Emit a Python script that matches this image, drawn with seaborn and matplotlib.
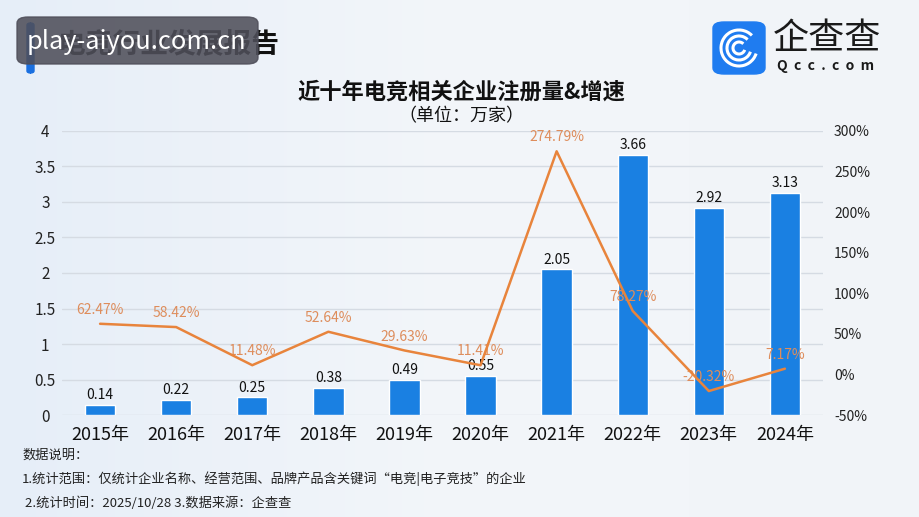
import numpy as np
import pandas as pd
import seaborn as sns
import matplotlib.pyplot as plt
from matplotlib.patches import FancyBboxPatch, Arc

years = ['2015年', '2016年', '2017年', '2018年', '2019年',
         '2020年', '2021年', '2022年', '2023年', '2024年']
counts = [0.14, 0.22, 0.25, 0.38, 0.49, 0.55, 2.05, 3.66, 2.92, 3.13]
growth = [62.47, 58.42, 11.48, 52.64, 29.63, 11.41, 274.79, 78.27, -20.32, 7.17]
growth_labels = ['62.47%', '58.42%', '11.48%', '52.64%', '29.63%',
                 '11.41%', '274.79%', '78.27%', '-20.32%', '7.17%']
left_ticks = [0, 0.5, 1, 1.5, 2, 2.5, 3, 3.5, 4]
left_labels = ['0', '0.5', '1', '1.5', '2', '2.5', '3', '3.5', '4']
right_ticks = [-50, 0, 50, 100, 150, 200, 250, 300]

sns.set_theme(style='white')
plt.rcParams['font.family'] = ['Noto Sans CJK SC', 'DejaVu Sans']

BLUE = '#1a80e2'
ORANGE = '#e8843c'
BG = '#eef3f9'

df = pd.DataFrame({'year': years, 'count': counts, 'growth': growth})
df['pos'] = np.arange(len(years))

fig = plt.figure(figsize=(9.19, 5.17), dpi=100)
fig.patch.set_facecolor(BG)

# soft background gradient
bg = fig.add_axes([0, 0, 1, 1], zorder=-10)
grad = np.linspace(0, 1, 256)[None, :] * np.ones((64, 1))
bg.imshow(grad, aspect='auto', cmap=sns.blend_palette(['#e6eef8', '#f3f6fa', '#f1f4f8'], as_cmap=True),
          extent=[0, 1, 0, 1])
bg.axis('off')

ax = fig.add_axes([0.0675, 0.197, 0.828, 0.55])
ax.set_facecolor('none')
sns.barplot(data=df, x='year', y='count', color=BLUE, width=0.4,
            saturation=1, ax=ax, zorder=3)
ax.set_ylim(0, 4)
ax.set_xlim(-0.5, 9.5)
ax.set_yticks(left_ticks)
ax.set_yticklabels(left_labels, ha='center')
ax.yaxis.grid(True, color='#d5dbe3', linewidth=1)
ax.set_axisbelow(True)
ax.set_xlabel('')
ax.set_ylabel('')
ax.tick_params(axis='y', labelsize=11, colors='#222222', length=0, pad=12)
ax.tick_params(axis='x', labelsize=13, colors='#111111', length=0, pad=8)
for s in ax.spines.values():
    s.set_visible(False)
for i, v in enumerate(counts):
    ax.text(i, v + 0.04, f'{v:.2f}', ha='center', va='bottom',
            fontsize=10, color='#111111', zorder=5)

ax2 = ax.twinx()
sns.lineplot(data=df, x='pos', y='growth', color=ORANGE, linewidth=1.8,
             ax=ax2, zorder=4)
ax2.set_ylim(-50, 300)
ax2.set_xlim(-0.5, 9.5)
ax2.set_yticks(right_ticks)
ax2.set_yticklabels([f'{t}%' for t in right_ticks])
ax2.tick_params(axis='y', labelsize=10, colors='#222222', length=0, pad=8)
ax2.set_xlabel('')
ax2.set_ylabel('')
for s in ax2.spines.values():
    s.set_visible(False)
for i, (v, lab) in enumerate(zip(growth, growth_labels)):
    ax2.annotate(lab, (i, v), xytext=(0, 5), textcoords='offset points',
                 ha='center', va='bottom', fontsize=10, color='#de8d5c')

# header
fig.text(0.502, 0.822, '近十年电竞相关企业注册量&增速', ha='center', va='center',
         fontsize=16, fontweight='bold', color='#111111')
fig.text(0.502, 0.775, '（单位：万家）', ha='center', va='center',
         fontsize=13, color='#111111')

fig.patches.append(FancyBboxPatch((27 / 919, 1 - 73 / 517), 7 / 919, 50 / 517,
                                  boxstyle='round,pad=0,rounding_size=0.004',
                                  transform=fig.transFigure, color='#1a6fe0', zorder=1))
fig.text(58 / 919, 1 - 45 / 517, '电竞行业发展报告', ha='left', va='center',
         fontsize=20, fontweight='bold', color='#111111', zorder=2)
fig.patches.append(FancyBboxPatch((17 / 919, 1 - 64 / 517), 241 / 919, 47 / 517,
                                  boxstyle='round,pad=0,rounding_size=0.012',
                                  transform=fig.transFigure, color='#4f4f5a',
                                  alpha=0.88, zorder=3))
fig.text(27 / 919, 1 - 42 / 517, 'play-aiyou.com.cn', ha='left', va='center',
         fontsize=18.3, color='white', zorder=4)

# logo
fig.patches.append(FancyBboxPatch((713 / 919, 1 - 74 / 517), 52 / 919, 52 / 517,
                                  boxstyle='round,pad=0,rounding_size=0.012',
                                  transform=fig.transFigure, color='#1f7cf0', zorder=1))
for d in (36, 24, 12):
    fig.patches.append(Arc((739 / 919, 1 - 48 / 517), d / 919, d / 517,
                           theta1=60, theta2=330, transform=fig.transFigure,
                           color='white', linewidth=2.2, zorder=2))
fig.text(773 / 919, 1 - 39 / 517, '企查查', ha='left', va='center', fontsize=26,
         color='#1a1a1a')
fig.text(777 / 919, 1 - 66 / 517, 'Q  c  c  .  c  o  m', ha='left', va='center',
         fontsize=10, color='#1a1a1a', fontweight='bold')

# footnotes
fig.text(22 / 919, 1 - 455 / 517, '数据说明：', ha='left', va='center',
         fontsize=9.5, color='#222222')
fig.text(22 / 919, 1 - 479 / 517,
         '1.统计范围：仅统计企业名称、经营范围、品牌产品含关键词“电竞|电子竞技”的企业',
         ha='left', va='center', fontsize=9.5, color='#222222')
fig.text(25 / 919, 1 - 503 / 517, '2.统计时间：2025/10/28 3.数据来源：企查查',
         ha='left', va='center', fontsize=9.5, color='#222222')

fig.savefig('out.png', dpi=100, facecolor=fig.get_facecolor())
